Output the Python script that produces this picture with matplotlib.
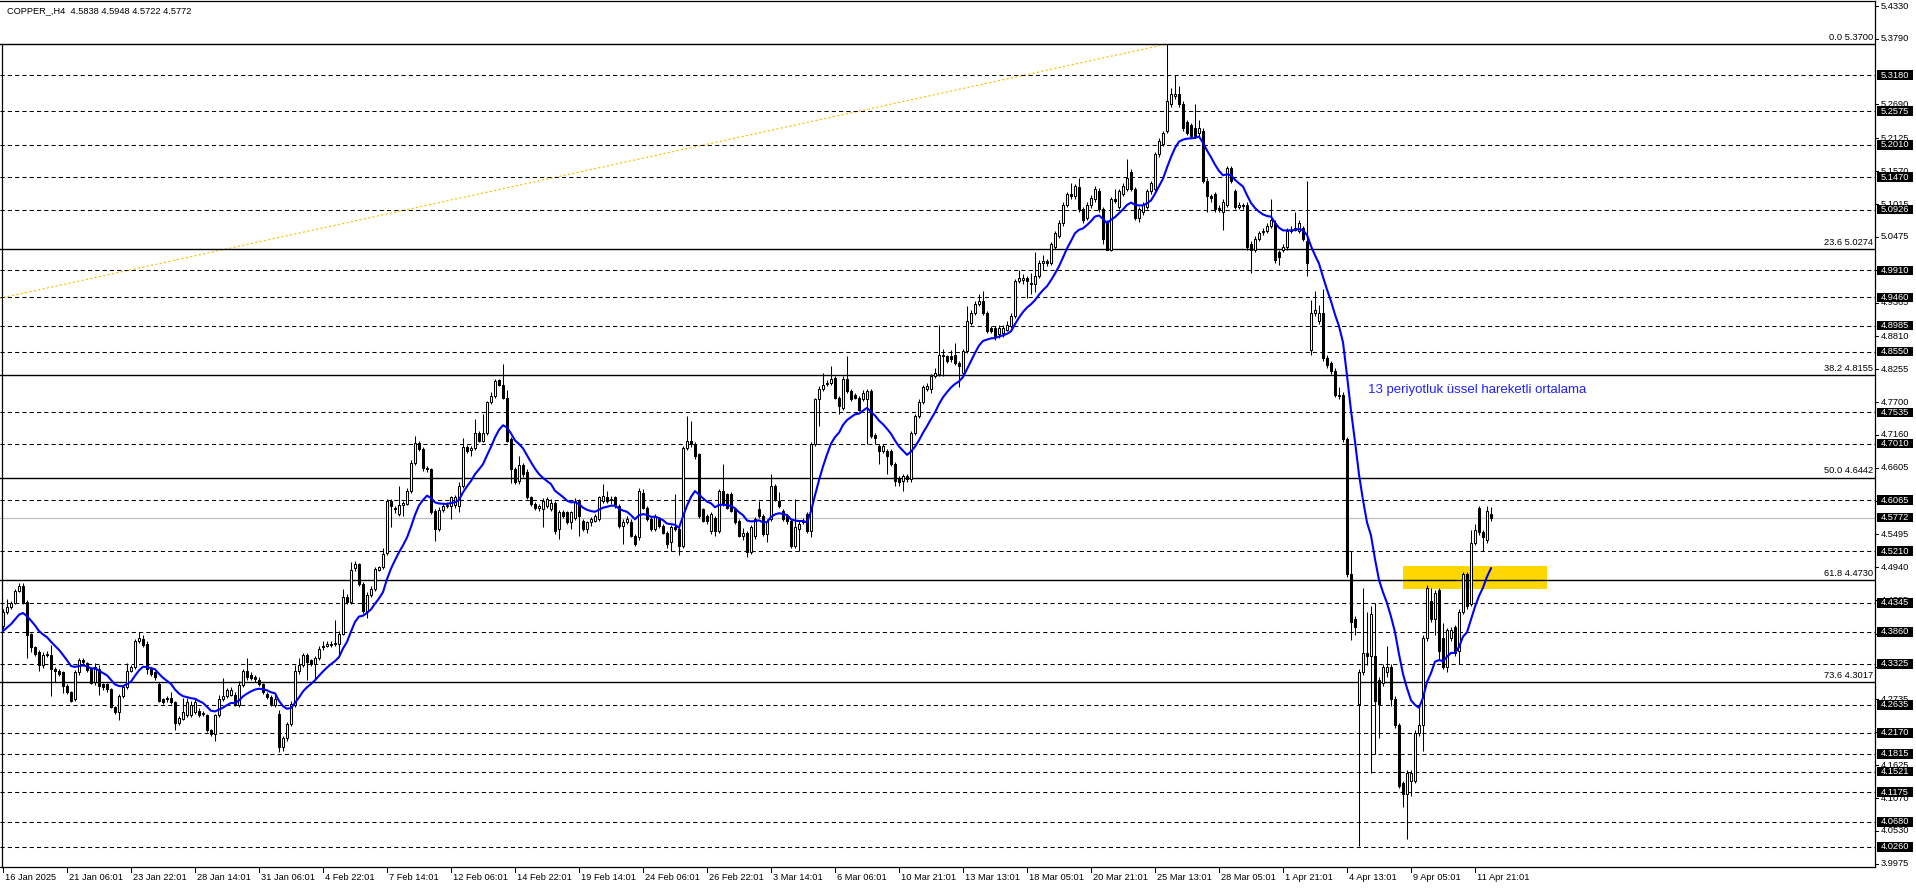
import matplotlib
matplotlib.use('Agg')
import matplotlib.pyplot as plt
from matplotlib.patches import Rectangle
import matplotlib.transforms as mtransforms

plt.rcParams['font.family'] = ['Liberation Sans', 'DejaVu Sans']

# COPPER H4 bars, 16 Jan 2025 -> 14 Apr 2025
opens = [
    4.396, 4.419, 4.427, 4.434, 4.454, 4.463, 4.436, 4.382, 4.360, 4.353,
    4.330, 4.347, 4.348, 4.324, 4.321, 4.318, 4.296, 4.285, 4.274, 4.318,
    4.338, 4.333, 4.324, 4.302, 4.324, 4.298, 4.298, 4.290, 4.260, 4.252,
    4.279, 4.293, 4.321, 4.327, 4.371, 4.374, 4.366, 4.324, 4.318, 4.299,
    4.273, 4.275, 4.275, 4.268, 4.233, 4.240, 4.247, 4.247, 4.252, 4.254,
    4.250, 4.247, 4.222, 4.215, 4.246, 4.274, 4.279, 4.281, 4.281, 4.263,
    4.297, 4.320, 4.313, 4.310, 4.306, 4.299, 4.282, 4.277, 4.263, 4.249,
    4.193, 4.208, 4.232, 4.263, 4.320, 4.330, 4.347, 4.338, 4.332, 4.342,
    4.360, 4.363, 4.364, 4.365, 4.366, 4.383, 4.445, 4.436, 4.492, 4.499,
    4.466, 4.421, 4.447, 4.458, 4.490, 4.494, 4.518, 4.605, 4.593, 4.583,
    4.599, 4.600, 4.622, 4.669, 4.702, 4.692, 4.661, 4.658, 4.589, 4.558,
    4.590, 4.597, 4.597, 4.598, 4.597, 4.630, 4.696, 4.691, 4.693, 4.718,
    4.706, 4.719, 4.770, 4.781, 4.807, 4.800, 4.778, 4.708, 4.658, 4.638,
    4.665, 4.653, 4.611, 4.600, 4.594, 4.591, 4.597, 4.591, 4.602, 4.558,
    4.586, 4.586, 4.569, 4.577, 4.605, 4.572, 4.558, 4.569, 4.572, 4.575,
    4.605, 4.611, 4.606, 4.611, 4.597, 4.563, 4.569, 4.569, 4.547, 4.545,
    4.619, 4.594, 4.575, 4.558, 4.575, 4.563, 4.552, 4.536, 4.561, 4.558,
    4.530, 4.694, 4.705, 4.700, 4.683, 4.591, 4.580, 4.555, 4.577, 4.555,
    4.622, 4.616, 4.616, 4.591, 4.572, 4.547, 4.552, 4.519, 4.547, 4.591,
    4.580, 4.549, 4.575, 4.630, 4.605, 4.589, 4.580, 4.572, 4.530, 4.558,
    4.569, 4.583, 4.555, 4.700, 4.775, 4.792, 4.801, 4.803, 4.811, 4.778,
    4.761, 4.810, 4.789, 4.783, 4.778, 4.775, 4.775, 4.789, 4.716, 4.697,
    4.689, 4.689, 4.689, 4.667, 4.644, 4.639, 4.647, 4.641, 4.719, 4.747,
    4.770, 4.792, 4.792, 4.814, 4.817, 4.850, 4.847, 4.847, 4.850, 4.836,
    4.820, 4.856, 4.903, 4.920, 4.934, 4.939, 4.920, 4.895, 4.895, 4.884,
    4.886, 4.892, 4.898, 4.914, 4.973, 4.975, 4.978, 4.970, 4.968, 4.982,
    5.004, 5.006, 5.004, 5.031, 5.048, 5.070, 5.101, 5.119, 5.115, 5.131,
    5.093, 5.079, 5.100, 5.110, 5.124, 5.093, 5.071, 5.026, 5.110, 5.097,
    5.119, 5.128, 5.155, 5.128, 5.079, 5.088, 5.097, 5.124, 5.128, 5.186,
    5.203, 5.225, 5.270, 5.283, 5.287, 5.270, 5.239, 5.234, 5.230, 5.221,
    5.225, 5.141, 5.115, 5.119, 5.093, 5.088, 5.101, 5.162, 5.124, 5.097,
    5.101, 5.101, 5.035, 5.026, 5.044, 5.055, 5.057, 5.066, 5.071, 5.022,
    5.026, 5.031, 5.057, 5.059, 5.057, 5.062, 5.040, 4.858, 4.920, 4.907,
    4.920, 4.845, 4.836, 4.823, 4.783, 4.783, 4.708, 4.482, 4.407, 4.265,
    4.318, 4.350, 4.345, 4.345, 4.305, 4.301, 4.318, 4.327, 4.274, 4.230,
    4.133, 4.115, 4.137, 4.137, 4.217, 4.230, 4.376, 4.438, 4.407, 4.456,
    4.376, 4.327, 4.376, 4.394, 4.354, 4.420, 4.482, 4.433, 4.535, 4.593,
    4.553, 4.540, 4.5838,
]
highs = [
    4.425, 4.441, 4.438, 4.458, 4.467, 4.468, 4.440, 4.384, 4.362, 4.356,
    4.352, 4.354, 4.364, 4.327, 4.324, 4.320, 4.298, 4.287, 4.322, 4.343,
    4.343, 4.335, 4.327, 4.333, 4.330, 4.301, 4.300, 4.292, 4.262, 4.282,
    4.296, 4.334, 4.330, 4.374, 4.386, 4.380, 4.370, 4.327, 4.320, 4.302,
    4.276, 4.279, 4.285, 4.270, 4.245, 4.275, 4.275, 4.270, 4.275, 4.258,
    4.254, 4.249, 4.224, 4.249, 4.280, 4.308, 4.292, 4.293, 4.285, 4.303,
    4.324, 4.343, 4.318, 4.313, 4.310, 4.301, 4.285, 4.280, 4.283, 4.255,
    4.211, 4.235, 4.270, 4.330, 4.342, 4.351, 4.350, 4.340, 4.346, 4.362,
    4.370, 4.370, 4.370, 4.405, 4.387, 4.458, 4.449, 4.503, 4.505, 4.502,
    4.469, 4.452, 4.462, 4.494, 4.497, 4.527, 4.608, 4.608, 4.596, 4.630,
    4.605, 4.626, 4.674, 4.713, 4.705, 4.696, 4.664, 4.660, 4.592, 4.595,
    4.600, 4.603, 4.614, 4.615, 4.636, 4.710, 4.699, 4.697, 4.742, 4.722,
    4.750, 4.773, 4.787, 4.810, 4.810, 4.834, 4.790, 4.712, 4.662, 4.680,
    4.668, 4.658, 4.614, 4.603, 4.600, 4.610, 4.612, 4.608, 4.605, 4.590,
    4.590, 4.589, 4.589, 4.610, 4.608, 4.575, 4.572, 4.578, 4.583, 4.614,
    4.633, 4.622, 4.614, 4.614, 4.600, 4.575, 4.580, 4.575, 4.549, 4.627,
    4.625, 4.597, 4.578, 4.583, 4.578, 4.566, 4.555, 4.564, 4.616, 4.561,
    4.697, 4.747, 4.739, 4.703, 4.686, 4.594, 4.583, 4.586, 4.580, 4.625,
    4.667, 4.619, 4.620, 4.594, 4.575, 4.560, 4.555, 4.564, 4.578, 4.605,
    4.583, 4.575, 4.650, 4.633, 4.620, 4.592, 4.583, 4.575, 4.608, 4.572,
    4.577, 4.586, 4.703, 4.778, 4.797, 4.820, 4.808, 4.831, 4.815, 4.781,
    4.814, 4.847, 4.792, 4.786, 4.781, 4.790, 4.792, 4.792, 4.719, 4.700,
    4.700, 4.692, 4.692, 4.670, 4.647, 4.650, 4.650, 4.722, 4.750, 4.775,
    4.800, 4.803, 4.817, 4.828, 4.900, 4.860, 4.850, 4.858, 4.870, 4.839,
    4.860, 4.931, 4.925, 4.939, 4.951, 4.956, 4.923, 4.898, 4.898, 4.900,
    4.900, 4.906, 4.920, 4.976, 4.992, 4.985, 4.981, 4.987, 5.022, 5.008,
    5.017, 5.010, 5.039, 5.057, 5.075, 5.106, 5.123, 5.137, 5.136, 5.146,
    5.097, 5.105, 5.117, 5.132, 5.129, 5.097, 5.075, 5.114, 5.128, 5.128,
    5.137, 5.177, 5.160, 5.131, 5.097, 5.106, 5.128, 5.141, 5.190, 5.212,
    5.225, 5.370, 5.296, 5.318, 5.300, 5.274, 5.243, 5.238, 5.270, 5.243,
    5.230, 5.146, 5.119, 5.123, 5.101, 5.110, 5.166, 5.166, 5.128, 5.106,
    5.104, 5.106, 5.040, 5.048, 5.057, 5.062, 5.070, 5.110, 5.075, 5.026,
    5.035, 5.062, 5.066, 5.088, 5.075, 5.066, 5.141, 4.942, 4.956, 4.933,
    4.960, 4.849, 4.840, 4.827, 4.796, 4.787, 4.712, 4.522, 4.412, 4.323,
    4.460, 4.420, 4.430, 4.434, 4.310, 4.332, 4.363, 4.332, 4.279, 4.234,
    4.137, 4.155, 4.155, 4.221, 4.261, 4.380, 4.464, 4.460, 4.456, 4.460,
    4.400, 4.393, 4.394, 4.398, 4.425, 4.486, 4.486, 4.557, 4.566, 4.597,
    4.557, 4.597, 4.5948,
]
lows = [
    4.390, 4.416, 4.424, 4.432, 4.452, 4.433, 4.343, 4.352, 4.345, 4.321,
    4.326, 4.344, 4.279, 4.302, 4.312, 4.283, 4.282, 4.268, 4.270, 4.314,
    4.330, 4.318, 4.298, 4.297, 4.281, 4.288, 4.286, 4.258, 4.249, 4.238,
    4.275, 4.290, 4.318, 4.323, 4.368, 4.361, 4.316, 4.312, 4.306, 4.268,
    4.265, 4.268, 4.265, 4.221, 4.230, 4.238, 4.244, 4.243, 4.248, 4.244,
    4.245, 4.218, 4.212, 4.203, 4.243, 4.271, 4.276, 4.278, 4.262, 4.260,
    4.294, 4.306, 4.305, 4.302, 4.296, 4.282, 4.273, 4.262, 4.260, 4.185,
    4.186, 4.204, 4.229, 4.260, 4.316, 4.327, 4.305, 4.329, 4.306, 4.339,
    4.356, 4.360, 4.361, 4.362, 4.346, 4.380, 4.433, 4.433, 4.488, 4.463,
    4.418, 4.409, 4.444, 4.455, 4.487, 4.491, 4.515, 4.561, 4.585, 4.580,
    4.580, 4.598, 4.619, 4.666, 4.688, 4.655, 4.654, 4.584, 4.538, 4.555,
    4.587, 4.594, 4.575, 4.594, 4.586, 4.627, 4.685, 4.680, 4.690, 4.703,
    4.703, 4.716, 4.767, 4.778, 4.797, 4.776, 4.703, 4.635, 4.634, 4.634,
    4.646, 4.608, 4.597, 4.590, 4.589, 4.561, 4.594, 4.588, 4.549, 4.541,
    4.577, 4.566, 4.558, 4.574, 4.547, 4.555, 4.552, 4.563, 4.569, 4.572,
    4.602, 4.602, 4.600, 4.594, 4.560, 4.533, 4.566, 4.544, 4.530, 4.540,
    4.591, 4.572, 4.555, 4.555, 4.560, 4.549, 4.527, 4.522, 4.555, 4.514,
    4.527, 4.690, 4.695, 4.675, 4.577, 4.569, 4.566, 4.549, 4.547, 4.552,
    4.597, 4.591, 4.586, 4.566, 4.544, 4.540, 4.511, 4.516, 4.541, 4.577,
    4.546, 4.536, 4.572, 4.605, 4.594, 4.572, 4.566, 4.527, 4.527, 4.522,
    4.566, 4.552, 4.544, 4.697, 4.731, 4.789, 4.797, 4.800, 4.775, 4.750,
    4.758, 4.786, 4.772, 4.775, 4.755, 4.772, 4.700, 4.711, 4.700, 4.667,
    4.686, 4.650, 4.664, 4.630, 4.630, 4.622, 4.636, 4.636, 4.716, 4.744,
    4.767, 4.789, 4.786, 4.811, 4.814, 4.815, 4.836, 4.838, 4.833, 4.795,
    4.817, 4.853, 4.900, 4.917, 4.931, 4.917, 4.886, 4.886, 4.875, 4.878,
    4.880, 4.889, 4.895, 4.911, 4.970, 4.968, 4.945, 4.951, 4.955, 4.979,
    4.991, 4.998, 5.000, 5.027, 5.045, 5.066, 5.097, 5.110, 5.111, 5.089,
    5.070, 5.075, 5.096, 5.106, 5.088, 5.035, 5.025, 5.024, 5.104, 5.093,
    5.115, 5.124, 5.124, 5.075, 5.072, 5.084, 5.093, 5.119, 5.124, 5.181,
    5.199, 5.221, 5.265, 5.278, 5.265, 5.225, 5.217, 5.212, 5.212, 5.216,
    5.137, 5.088, 5.106, 5.088, 5.088, 5.059, 5.097, 5.137, 5.093, 5.093,
    5.093, 5.026, 4.986, 5.022, 5.040, 5.050, 5.053, 5.062, 5.004, 5.000,
    5.022, 5.026, 5.053, 5.057, 5.053, 5.040, 4.982, 4.849, 4.915, 4.902,
    4.840, 4.827, 4.818, 4.779, 4.776, 4.704, 4.478, 4.372, 4.380, 4.027,
    4.314, 4.330, 4.150, 4.181, 4.208, 4.296, 4.310, 4.261, 4.225, 4.124,
    4.093, 4.040, 4.111, 4.133, 4.212, 4.186, 4.371, 4.403, 4.380, 4.340,
    4.323, 4.318, 4.371, 4.345, 4.332, 4.416, 4.425, 4.429, 4.531, 4.548,
    4.522, 4.535, 4.5722,
]
closes = [
    4.419, 4.427, 4.434, 4.454, 4.462, 4.435, 4.380, 4.360, 4.349, 4.330,
    4.348, 4.349, 4.324, 4.321, 4.316, 4.296, 4.285, 4.271, 4.318, 4.338,
    4.335, 4.322, 4.301, 4.327, 4.296, 4.294, 4.290, 4.260, 4.252, 4.279,
    4.293, 4.321, 4.327, 4.371, 4.375, 4.364, 4.324, 4.316, 4.310, 4.271,
    4.269, 4.273, 4.268, 4.233, 4.242, 4.252, 4.268, 4.263, 4.269, 4.247,
    4.248, 4.221, 4.215, 4.246, 4.274, 4.279, 4.288, 4.289, 4.265, 4.297,
    4.320, 4.310, 4.309, 4.307, 4.299, 4.285, 4.277, 4.265, 4.274, 4.193,
    4.208, 4.232, 4.265, 4.320, 4.330, 4.347, 4.335, 4.332, 4.342, 4.358,
    4.363, 4.365, 4.366, 4.368, 4.383, 4.445, 4.436, 4.490, 4.499, 4.466,
    4.421, 4.447, 4.458, 4.491, 4.494, 4.516, 4.605, 4.597, 4.591, 4.598,
    4.601, 4.622, 4.669, 4.702, 4.692, 4.661, 4.658, 4.587, 4.558, 4.590,
    4.597, 4.599, 4.611, 4.611, 4.630, 4.696, 4.689, 4.693, 4.718, 4.706,
    4.719, 4.770, 4.781, 4.806, 4.800, 4.778, 4.706, 4.658, 4.636, 4.665,
    4.650, 4.611, 4.600, 4.594, 4.596, 4.605, 4.608, 4.602, 4.555, 4.586,
    4.580, 4.569, 4.586, 4.605, 4.580, 4.558, 4.569, 4.575, 4.580, 4.611,
    4.614, 4.605, 4.608, 4.597, 4.563, 4.569, 4.575, 4.547, 4.533, 4.622,
    4.594, 4.575, 4.558, 4.580, 4.563, 4.552, 4.533, 4.561, 4.558, 4.530,
    4.694, 4.705, 4.700, 4.680, 4.580, 4.572, 4.572, 4.583, 4.555, 4.622,
    4.600, 4.594, 4.589, 4.569, 4.547, 4.552, 4.519, 4.561, 4.575, 4.580,
    4.549, 4.572, 4.630, 4.608, 4.597, 4.575, 4.572, 4.530, 4.561, 4.566,
    4.572, 4.555, 4.700, 4.775, 4.792, 4.800, 4.803, 4.810, 4.778, 4.764,
    4.810, 4.789, 4.775, 4.778, 4.758, 4.786, 4.789, 4.714, 4.711, 4.689,
    4.697, 4.680, 4.667, 4.639, 4.636, 4.647, 4.641, 4.719, 4.747, 4.770,
    4.795, 4.797, 4.814, 4.820, 4.850, 4.847, 4.839, 4.842, 4.836, 4.831,
    4.856, 4.906, 4.920, 4.934, 4.939, 4.920, 4.889, 4.889, 4.881, 4.895,
    4.895, 4.900, 4.914, 4.973, 4.978, 4.978, 4.973, 4.968, 4.982, 5.004,
    5.006, 5.003, 5.035, 5.053, 5.070, 5.101, 5.119, 5.115, 5.132, 5.093,
    5.075, 5.101, 5.112, 5.128, 5.093, 5.044, 5.026, 5.110, 5.108, 5.124,
    5.132, 5.146, 5.128, 5.079, 5.093, 5.101, 5.124, 5.137, 5.186, 5.208,
    5.221, 5.274, 5.287, 5.287, 5.270, 5.230, 5.221, 5.216, 5.216, 5.230,
    5.141, 5.115, 5.113, 5.093, 5.095, 5.106, 5.162, 5.141, 5.097, 5.101,
    5.099, 5.031, 5.026, 5.044, 5.053, 5.057, 5.066, 5.075, 5.009, 5.013,
    5.031, 5.057, 5.059, 5.062, 5.071, 5.044, 5.004, 4.920, 4.924, 4.920,
    4.845, 4.832, 4.823, 4.783, 4.781, 4.708, 4.482, 4.403, 4.394, 4.318,
    4.350, 4.345, 4.416, 4.270, 4.265, 4.327, 4.327, 4.274, 4.230, 4.128,
    4.115, 4.150, 4.150, 4.217, 4.230, 4.376, 4.460, 4.407, 4.451, 4.354,
    4.327, 4.389, 4.389, 4.350, 4.420, 4.482, 4.429, 4.535, 4.557, 4.553,
    4.544, 4.588, 4.5772,
]

ema_period = 13
ema_start = 4.382   # where the blue line enters on the left

fib_levels = [5.3700, 5.0274, 4.8155, 4.6442, 4.4730, 4.3017]
fib_names = ['0.0', '23.6', '38.2', '50.0', '61.8', '73.6']
hline_levels = [5.3180, 5.2575, 5.2010, 5.1470, 5.0926, 4.9910, 4.9460, 4.8985,
                4.8550, 4.7535, 4.7010, 4.6065, 4.5210, 4.4345, 4.3860, 4.3325,
                4.2635, 4.2170, 4.1815, 4.1521, 4.1175, 4.0680, 4.0260]
bid = 4.5772
price_ticks = [5.4330, 5.3790, 5.2690, 5.2125, 5.1570, 5.1015, 5.0475,
               4.9920, 4.9365, 4.8810, 4.8255, 4.7700, 4.7160, 4.6605, 4.6050,
               4.5495, 4.4940, 4.4385, 4.3830, 4.3275, 4.2735, 4.2180, 4.1625,
               4.1070, 4.0530, 3.9975]
date_labels = ['16 Jan 2025', '21 Jan 06:01', '23 Jan 22:01', '28 Jan 14:01',
               '31 Jan 06:01', '4 Feb 22:01', '7 Feb 14:01', '12 Feb 06:01',
               '14 Feb 22:01', '19 Feb 14:01', '24 Feb 06:01', '26 Feb 22:01',
               '3 Mar 14:01', '6 Mar 06:01', '10 Mar 21:01', '13 Mar 13:01',
               '18 Mar 05:01', '20 Mar 21:01', '25 Mar 13:01', '28 Mar 05:01',
               '1 Apr 21:01', '4 Apr 13:01', '9 Apr 05:01', '11 Apr 21:01']
bars_per_label = 16
trend_x = [-1, 291]
trend_y = [4.944, 5.370]
zone_x = [350, 386]
zone_y = [4.458, 4.496]
note = '13 periyotluk üssel hareketli ortalama'
note_x, note_y = 341.25, 4.791
title = 'COPPER_,H4  4.5838 4.5948 4.5722 4.5772'

W, H = 1916, 888
fig = plt.figure(figsize=(W / 100, H / 100), dpi=100)
fig.patch.set_facecolor('white')
ax_w = 1875
ax = fig.add_axes([0, 21 / H, ax_w / W, 866 / H])
ax.set_xlim(-0.75, 468)
ax.set_ylim(3.9923, 5.442)
ax.set_xticks([])
ax.set_yticks([])
for s in ['top', 'right', 'bottom']:
    ax.spines[s].set_linewidth(0.9)
ax.spines['left'].set_visible(False)
ax.plot([-0.25, -0.25], [3.9923, fib_levels[0]], color='black', lw=0.9, zorder=5)

ytr = mtransforms.blended_transform_factory(ax.transAxes, ax.transData)
xtr = mtransforms.blended_transform_factory(ax.transData, ax.transAxes)
px = 1.0 / ax_w
fs = 6.7

# yellow zone
ax.add_patch(Rectangle((zone_x[0], zone_y[0]), zone_x[1] - zone_x[0], zone_y[1] - zone_y[0],
                       facecolor='#ffd700', edgecolor='none', zorder=1))

# trend line
ax.plot(trend_x, trend_y, color='#f2c200', lw=0.8, dashes=(2, 2), zorder=2)

# horizontal levels
for v in hline_levels:
    ax.axhline(v, color='black', lw=0.75, dashes=(4, 3), zorder=2)
ax.axhline(bid, color='#c0c0c0', lw=0.9, zorder=2)
for v, n in zip(fib_levels, fib_names):
    ax.axhline(v, color='black', lw=1.0, zorder=2)
    ax.text(1 - 2 * px, v + 0.0035, '%s %.4f' % (n, v), transform=ytr,
            ha='right', va='bottom', fontsize=fs, color='black')

# candles
for i in range(len(closes)):
    o, h, l, c = opens[i], highs[i], lows[i], closes[i]
    ax.vlines(i, l, h, color='black', lw=0.75, zorder=3)
    bottom = min(o, c)
    height = max(abs(c - o), 0.0008)
    fc = 'white' if c >= o else 'black'
    ax.add_patch(Rectangle((i - 0.3, bottom), 0.6, height, facecolor=fc,
                           edgecolor='black', lw=0.75, zorder=4))

# 13 EMA
ema = []
e = ema_start
k = 2.0 / (ema_period + 1)
for c in closes:
    e = e + k * (c - e)
    ema.append(e)
ax.plot(range(len(ema)), ema, color='#0000ff', lw=1.5, zorder=6)

ax.text(note_x, note_y, note, color='#2020ff', fontsize=9.5, ha='left', va='center', zorder=7)

# right price scale
for v in price_ticks:
    ax.plot([1, 1 + 3 * px], [v, v], transform=ytr, color='black', lw=0.75, clip_on=False)
    ax.text(1 + 6 * px, v, '%.4f' % v, transform=ytr, ha='left', va='center',
            fontsize=fs, color='black', clip_on=False)
box_h = 9.5 * 0.001674
for v in hline_levels + [bid]:
    ax.add_patch(Rectangle((1 + 2 * px, v - box_h / 2), 36 * px, box_h, transform=ytr,
                           facecolor='black', edgecolor='none', clip_on=False, zorder=8))
    ax.text(1 + 6 * px, v, '%.4f' % v, transform=ytr, ha='left', va='center',
            fontsize=fs, color='white', clip_on=False, zorder=9)

# time scale
for j, lab in enumerate(date_labels):
    x = j * bars_per_label
    ax.plot([x, x], [0, -5 / 866], transform=xtr, color='black', lw=0.75, clip_on=False)
    ax.text(x + 0.4, -5.5 / 866, lab, transform=xtr, ha='left', va='top',
            fontsize=fs, color='black', clip_on=False)

fig.text(7 / W, 1 - 11 / H, title, ha='left', va='center', fontsize=fs, color='black')

fig.savefig('out.png', dpi=100, facecolor='white')
